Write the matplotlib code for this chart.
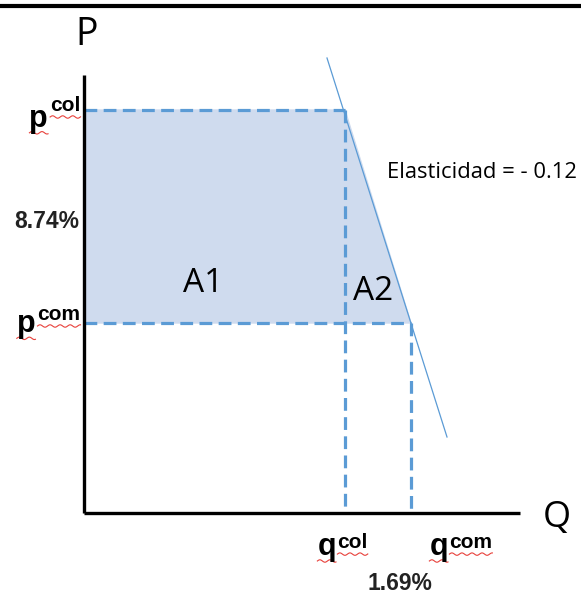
import matplotlib.pyplot as plt
import numpy as np
from matplotlib.lines import Line2D
from matplotlib.transforms import IdentityTransform

# model values (same units on both axes)
p_col = 4.03
p_com = 1.90
q_col = 2.61
q_com = 3.27
demand_q = [2.43, 3.63]
demand_p = [4.55, 0.76]
elasticidad = "Elasticidad = - 0.12"
dp_label = "8.74%"
dq_label = "1.69%"

blue = '#5b9bd5'
fill = '#cfdbee'

fig = plt.figure(figsize=(5.81, 5.97), dpi=100)
ax = fig.add_axes([0, 0, 1, 1])
ax.set_xlim(-0.84, 4.97)
ax.set_ylim(-0.84, 5.13)
ax.axis('off')

# shaded area A1 + A2
ax.fill([0, q_col, q_com, 0], [p_col, p_col, p_com, p_com], color=fill, zorder=1)

# demand curve
ax.plot(demand_q, demand_p, color=blue, lw=0.9, zorder=2)

# dashed guides
dash = dict(color=blue, lw=2.3, linestyle=(0, (4, 2)), zorder=3)
ax.plot([0, q_col], [p_col, p_col], **dash)
ax.plot([0, q_com], [p_com, p_com], **dash)
ax.plot([q_col, q_col], [p_col, 0], **dash)
ax.plot([q_com, q_com], [p_com, 0], **dash)

# axes
ax.plot([0, 0], [0, 4.38], color='black', lw=2.4, zorder=4, solid_capstyle='butt')
ax.plot([0, 4.36], [0, 0], color='black', lw=2.4, zorder=4, solid_capstyle='butt')

# top border line
fig.add_artist(Line2D([0, 1], [0.99, 0.99], transform=fig.transFigure, color='black', lw=3))

font = ['Open Sans', 'DejaVu Sans']
ax.text(0.03, 4.78, 'P', fontsize=27, family=font, ha='center', va='center')
ax.text(4.73, -0.05, 'Q', fontsize=26, family=font, ha='center', va='center')
ax.text(1.19, 2.3, 'A1', fontsize=24, family=font, ha='center', va='center')
ax.text(2.89, 2.21, 'A2', fontsize=24, family=font, ha='center', va='center')
ax.text(3.03, 3.4, elasticidad, fontsize=15.8, family=font, ha='left', va='center')

sans = ['Liberation Sans', 'DejaVu Sans']
ax.text(-0.05, (p_col + p_com) / 2 - 0.05, dp_label, fontsize=16.5, family=sans,
        fontweight='bold', ha='right', va='center', color='#222222')
ax.text(3.16, -0.71, dq_label, fontsize=16.5, family=sans, fontweight='bold',
        ha='center', va='center', color='#222222')

# p / q labels with superscripts
labels = []
for letter, sup, x, y, drop in [('p', 'col', -0.035, p_col - 0.01, -8.5),
                                ('p', 'com', -0.035, p_com + 0.03, -6)]:
    s = ax.text(x, y, sup, fontsize=15, family=sans, fontweight='bold',
                ha='right', va='baseline')
    m = ax.annotate(letter, xy=(0, 0), xycoords=s, xytext=(-1.5, drop),
                    textcoords='offset points', fontsize=22, family=sans,
                    fontweight='bold', ha='right', va='baseline')
    labels.append((m, s))
for letter, sup, x, y in [('q', 'col', q_col - 0.09, -0.42), ('q', 'com', q_com + 0.37, -0.42)]:
    m = ax.text(x, y, letter, fontsize=22, family=sans, fontweight='bold',
                ha='right', va='baseline')
    s = ax.annotate(sup, xy=(1, 0), xycoords=m, xytext=(1, 10),
                    textcoords='offset points', fontsize=15, family=sans,
                    fontweight='bold', ha='left', va='baseline')
    labels.append((m, s))

# red wavy spell-check underlines
fig.canvas.draw()
r = fig.canvas.get_renderer()
for m, s in labels:
    for art in (m, s):
        bb = art.get_window_extent(r)
        base = bb.y0 - 2 if art is s else bb.y0 + 1
        xs = np.linspace(bb.x0, bb.x1, 60)
        ys = base + 1.2 * np.sin((xs - bb.x0) / 1.6)
        ax.add_line(Line2D(xs, ys, transform=IdentityTransform(), color='#e8403a', lw=0.8))

fig.savefig('out.png', dpi=100)
